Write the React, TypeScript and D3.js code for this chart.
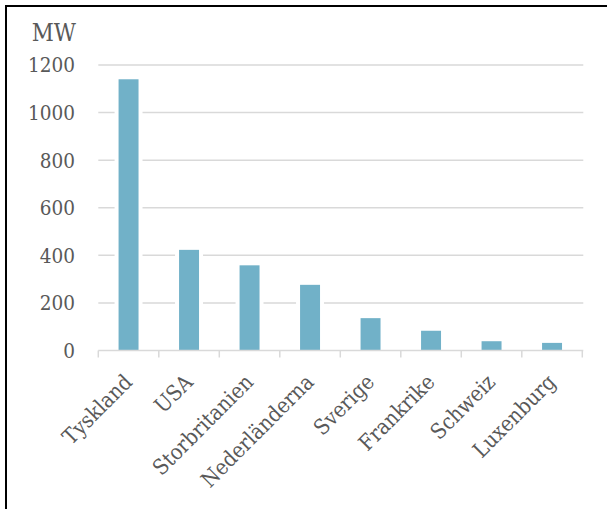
import React from "react";
import * as d3 from "d3";

// Installed capacity per country
const countries = [
  "Tyskland",
  "USA",
  "Storbritanien",
  "Nederländerna",
  "Sverige",
  "Frankrike",
  "Schweiz",
  "Luxenburg",
];
const capacityMW = [1140, 423, 358, 276, 136, 83, 39, 32];
const yTicks = [0, 200, 400, 600, 800, 1000, 1200];
const unitLabel = "MW";

const W = 607;
const H = 509;
const FONT = "'DejaVu Serif Condensed', 'DejaVu Serif', serif";
const FS = 20.5;
const FS_CAT = 21.5;
const FS_UNIT = 24;
const TEXT = "#595959";
const GRID = "#d9d9d9";
const BAR = "#71b1c8";

export default function App() {
  const x = d3.scaleBand<string>().domain(countries).range([98.3, 582.3]).padding(0);
  const y = d3.scaleLinear().domain([0, 1200]).range([350.5, 65]);
  const barW = x.bandwidth() * 0.33;
  const gap = 4;
  const boundaries = d3.range(countries.length + 1).map((i) => 98.3 + i * x.step());

  return (
    <svg
      width={W}
      height={H}
      style={{ position: "absolute", left: 0, top: 0, background: "#fff", fontStretch: "condensed" }}
      fontFamily={FONT}
    >
      <rect x={0} y={0} width={W} height={H} fill="#fff" />
      {/* frame */}
      <line x1={6} y1={6} x2={W} y2={6} stroke="#000" strokeWidth={2} />
      <line x1={6} y1={5} x2={6} y2={H} stroke="#000" strokeWidth={2} />

      {/* gridlines */}
      {yTicks.filter((t) => t > 0).map((t) => (
        <line key={t} x1={98.3} x2={583.3} y1={y(t)} y2={y(t)} stroke={GRID} strokeWidth={1.5} />
      ))}

      {/* white halo behind bars */}
      {countries.map((c, i) => {
        const cx = (x(c) ?? 0) + x.bandwidth() / 2;
        return (
          <rect
            key={"h" + c}
            x={cx - barW / 2 - gap}
            y={y(capacityMW[i]) - 1}
            width={barW + gap * 2}
            height={y(0) - y(capacityMW[i])}
            fill="#fff"
          />
        );
      })}

      {/* bars */}
      {countries.map((c, i) => {
        const cx = (x(c) ?? 0) + x.bandwidth() / 2;
        return (
          <rect
            key={c}
            x={cx - barW / 2}
            y={y(capacityMW[i])}
            width={barW}
            height={y(0) - y(capacityMW[i])}
            fill={BAR}
          />
        );
      })}

      {/* category axis */}
      <line x1={98.3} x2={583.3} y1={y(0)} y2={y(0)} stroke={GRID} strokeWidth={1.5} />
      {boundaries.map((bx, i) => (
        <line key={i} x1={bx} x2={bx} y1={y(0)} y2={y(0) + 7} stroke={GRID} strokeWidth={1.5} />
      ))}

      {/* value labels */}
      {yTicks.map((t) => (
        <text key={t} x={75} y={y(t)} dy="0.36em" textAnchor="end" fontSize={FS} fill={TEXT}>
          {t}
        </text>
      ))}
      <text x={76} y={41} textAnchor="end" fontSize={FS_UNIT} fill={TEXT}>
        {unitLabel}
      </text>

      {/* category labels */}
      {countries.map((c) => {
        const cx = (x(c) ?? 0) + x.bandwidth() / 2;
        const ax = cx + 5;
        const ay = y(0) + 33;
        return (
          <text
            key={"l" + c}
            x={ax}
            y={ay}
            textAnchor="end"
            fontSize={FS_CAT}
            fill={TEXT}
            transform={`rotate(-45, ${ax}, ${ay})`}
          >
            {c}
          </text>
        );
      })}
    </svg>
  );
}
